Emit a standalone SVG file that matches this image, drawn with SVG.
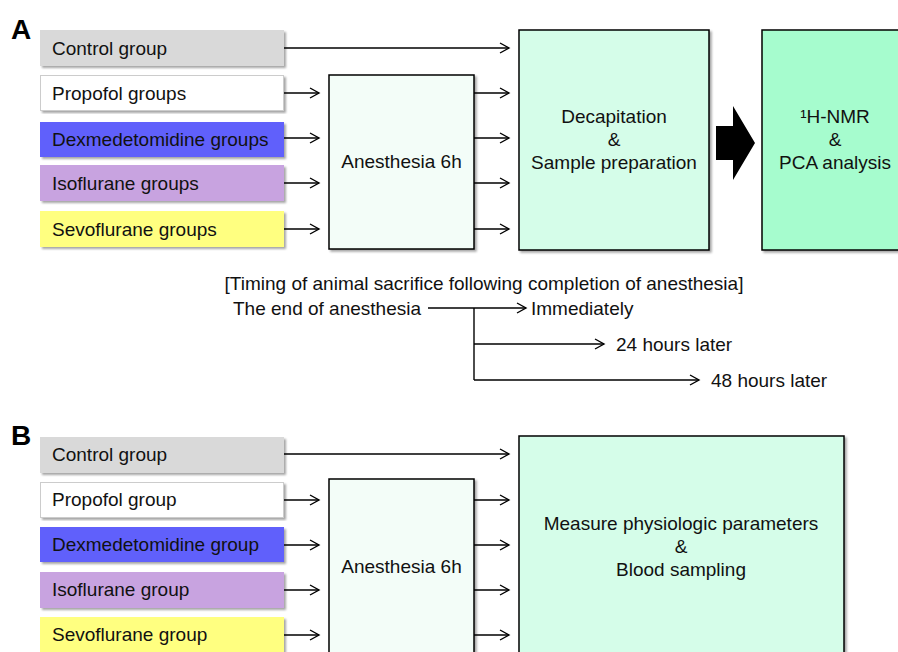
<svg xmlns="http://www.w3.org/2000/svg" width="898" height="652" viewBox="0 0 898 652">
<defs>
<filter id="sh" x="-5%" y="-5%" width="115%" height="115%">
<feDropShadow dx="2" dy="2" stdDeviation="1.3" flood-color="#000" flood-opacity="0.35"/>
</filter>
<marker id="ah" markerWidth="12" markerHeight="12" refX="10" refY="6" orient="auto" markerUnits="userSpaceOnUse">
<path d="M1,1 L10,6 L1,11" fill="none" stroke="#000" stroke-width="1.4"/>
</marker>
</defs>
<style>
text{font-family:"Liberation Sans",Arial,Helvetica,sans-serif;font-size:19px;fill:#111}
.c{text-anchor:middle}
.lbl{font-size:28px;font-weight:bold;fill:#000}
.grp{filter:url(#sh)}
.big{stroke:#000;stroke-width:1.5;filter:url(#sh)}
.cn line,.cn path{stroke:#000;stroke-width:1.4;fill:none}
.ar{marker-end:url(#ah)}
</style>
<rect width="898" height="652" fill="#fff"/>

<text class="lbl" x="11" y="39">A</text>
<text class="lbl" x="11" y="445">B</text>

<g id="A-control"><rect class="grp" x="40" y="30" width="244" height="36" fill="#d9d9d9"/><text x="52" y="55">Control group</text></g>
<g id="A-propofol"><rect class="grp" x="40.5" y="75.5" width="243" height="35" fill="#fff" stroke="#ccc"/><text x="52" y="100">Propofol groups</text></g>
<g id="A-dex"><rect class="grp" x="40" y="122" width="244" height="35" fill="#6060fb"/><text x="52" y="146">Dexmedetomidine groups</text></g>
<g id="A-iso"><rect class="grp" x="40" y="165" width="244" height="36" fill="#c8a3e0"/><text x="52" y="190">Isoflurane groups</text></g>
<g id="A-sevo"><rect class="grp" x="40" y="211" width="244" height="36" fill="#ffff80"/><text x="52" y="236">Sevoflurane groups</text></g>
<g id="A-anesthesia"><rect class="big" x="329" y="75" width="145" height="174" fill="#f3fdf8"/><text class="c" x="401.5" y="168">Anesthesia 6h</text></g>
<g id="A-decap"><rect class="big" x="519" y="30" width="190" height="220" fill="#d5fde9"/><text class="c" x="614" y="123">Decapitation</text><text class="c" x="614" y="146">&amp;</text><text class="c" x="614" y="169">Sample preparation</text></g>
<g id="A-nmr"><rect class="big" x="762" y="30" width="150" height="220" fill="#a6fcce"/><text class="c" x="835" y="123">¹H-NMR</text><text class="c" x="835" y="146">&amp;</text><text class="c" x="835" y="169">PCA analysis</text></g>
<g id="A-bigarrow"><path d="M716,126 L733,126 L733,106 L755,143 L733,180 L733,160 L716,160 Z" fill="#000"/></g>

<g id="B-control"><rect class="grp" x="40" y="437" width="244" height="36" fill="#d9d9d9"/><text x="52" y="461">Control group</text></g>
<g id="B-propofol"><rect class="grp" x="40.5" y="482.5" width="243" height="35" fill="#fff" stroke="#ccc"/><text x="52" y="506">Propofol group</text></g>
<g id="B-dex"><rect class="grp" x="40" y="527" width="244" height="35" fill="#6060fb"/><text x="52" y="551">Dexmedetomidine group</text></g>
<g id="B-iso"><rect class="grp" x="40" y="572" width="244" height="36" fill="#c8a3e0"/><text x="52" y="596">Isoflurane group</text></g>
<g id="B-sevo"><rect class="grp" x="40" y="617" width="244" height="40" fill="#ffff80"/><text x="52" y="641">Sevoflurane group</text></g>
<g id="B-anesthesia"><rect class="big" x="329" y="479" width="145" height="180" fill="#f3fdf8"/><text class="c" x="401.5" y="573">Anesthesia 6h</text></g>
<g id="B-measure"><rect class="big" x="519" y="436" width="325" height="225" fill="#d5fde9"/><text class="c" x="681" y="530">Measure physiologic parameters</text><text class="c" x="681" y="553">&amp;</text><text class="c" x="681" y="576">Blood sampling</text></g>

<g id="timing">
<text class="c" x="484" y="290">[Timing of animal sacrifice following completion of anesthesia]</text>
<text x="233" y="315">The end of anesthesia</text>
<text x="531" y="315">Immediately</text>
<text x="616" y="351">24 hours later</text>
<text x="711" y="387">48 hours later</text>
</g>

<g class="cn" id="connectors">
<line class="ar" x1="284" y1="48" x2="509" y2="48"/>
<line class="ar" x1="284" y1="93" x2="319" y2="93"/>
<line class="ar" x1="284" y1="138" x2="319" y2="138"/>
<line class="ar" x1="284" y1="183" x2="319" y2="183"/>
<line class="ar" x1="284" y1="229" x2="319" y2="229"/>
<line class="ar" x1="474" y1="93" x2="509" y2="93"/>
<line class="ar" x1="474" y1="138" x2="509" y2="138"/>
<line class="ar" x1="474" y1="183" x2="509" y2="183"/>
<line class="ar" x1="474" y1="229" x2="509" y2="229"/>
<line class="ar" x1="428" y1="308" x2="526" y2="308"/>
<path d="M474,308 L474,380"/>
<line class="ar" x1="474" y1="344" x2="604" y2="344"/>
<line class="ar" x1="474" y1="380" x2="699" y2="380"/>
<line class="ar" x1="284" y1="454" x2="509" y2="454"/>
<line class="ar" x1="284" y1="500" x2="319" y2="500"/>
<line class="ar" x1="284" y1="545" x2="319" y2="545"/>
<line class="ar" x1="284" y1="590" x2="319" y2="590"/>
<line class="ar" x1="284" y1="635" x2="319" y2="635"/>
<line class="ar" x1="474" y1="500" x2="509" y2="500"/>
<line class="ar" x1="474" y1="545" x2="509" y2="545"/>
<line class="ar" x1="474" y1="590" x2="509" y2="590"/>
<line class="ar" x1="474" y1="635" x2="509" y2="635"/>
</g>
</svg>
